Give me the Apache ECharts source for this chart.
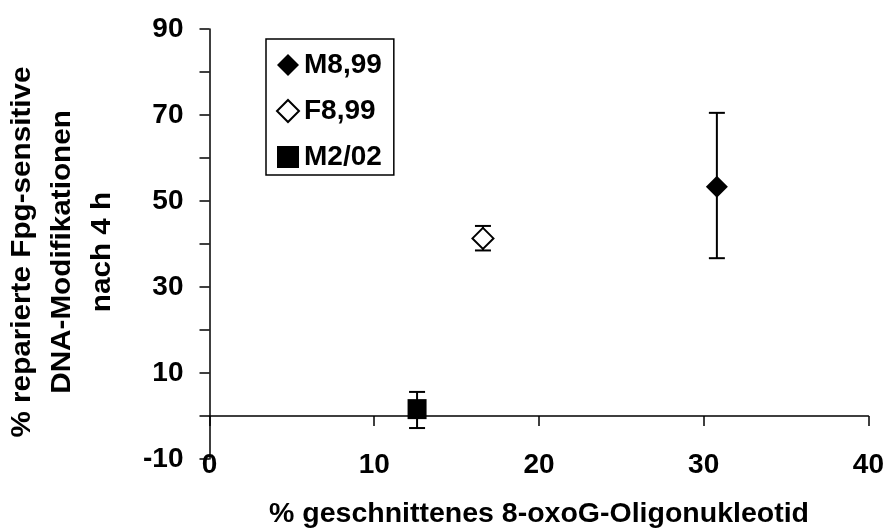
<!DOCTYPE html>
<html>
<head>
<meta charset="utf-8">
<script src="https://cdn.jsdelivr.net/npm/echarts@6/dist/echarts.min.js"></script>
<style>
html,body{margin:0;padding:0;background:#fff;}
#c{width:887px;height:529px;}
</style>
</head>
<body>
<div id="c"></div>
<script>
// ---- data ----
const seriesNames = ['M8,99', 'F8,99', 'M2/02'];
const xValues = [30.8, 16.6, 12.6];
const yValues = [53.3, 41.3, 1.6];
const errLow = [36.7, 38.5, -2.8];
const errHigh = [70.5, 44.2, 5.6];
const yTickLabels = [-10, 10, 30, 50, 70, 90];
const xTickLabels = [0, 10, 20, 30, 40];

const FONT = "'Liberation Sans', Arial, sans-serif";
const chart = echarts.init(document.getElementById('c'));

const markerDefs = [
  {symbol: 'diamond', size: 22, style: {color: '#000', borderColor: '#000', borderWidth: 0, opacity: 1}, icon: 'diamond'},
  {symbol: 'diamond', size: 21, style: {color: '#fff', borderColor: '#000', borderWidth: 2, opacity: 1}, icon: 'diamond'},
  {symbol: 'rect', size: [19, 20], style: {color: '#000', borderColor: '#000', borderWidth: 0, opacity: 1}, icon: 'rect'}
];

const series = [];
// error bars
series.push({
  type: 'custom',
  name: 'err',
  xAxisIndex: 0, yAxisIndex: 0,
  z: 1,
  silent: true,
  data: xValues.map((x, i) => [x, errLow[i], errHigh[i]]),
  renderItem: function (params, api) {
    const x = api.value(0);
    const lo = api.coord([x, api.value(1)]);
    const hi = api.coord([x, api.value(2)]);
    const hw = 8;
    const st = {stroke: '#000', lineWidth: 2};
    return {
      type: 'group',
      children: [
        {type: 'line', shape: {x1: lo[0], y1: lo[1], x2: hi[0], y2: hi[1]}, style: st},
        {type: 'line', shape: {x1: lo[0] - hw, y1: lo[1], x2: lo[0] + hw, y2: lo[1]}, style: st},
        {type: 'line', shape: {x1: hi[0] - hw, y1: hi[1], x2: hi[0] + hw, y2: hi[1]}, style: st}
      ]
    };
  }
});
seriesNames.forEach((n, i) => {
  series.push({
    type: 'scatter',
    name: n,
    xAxisIndex: 0, yAxisIndex: 0,
    z: 3,
    symbol: markerDefs[i].symbol,
    symbolSize: markerDefs[i].size,
    itemStyle: markerDefs[i].style,
    emphasis: {disabled: true},
    data: [[xValues[i], yValues[i]]]
  });
});

const option = {
  animation: false,
  backgroundColor: '#fff',
  grid: {left: 209.5, right: 18, top: 29, bottom: 70, containLabel: false},
  legend: {
    orient: 'vertical',
    left: 266, top: 39,
    padding: [12, 12, 4, 10],
    itemGap: 18,
    itemWidth: 22, itemHeight: 22,
    borderColor: '#000', borderWidth: 1.5,
    backgroundColor: '#fff',
    data: seriesNames.map((n, i) => ({name: n, icon: markerDefs[i].icon})),
    textStyle: {fontFamily: FONT, fontWeight: 'bold', fontSize: 28, color: '#000'}
  },
  xAxis: [
    {
      type: 'value', min: 0, max: 40, interval: 10, position: 'bottom',
      axisLine: {show: false, onZero: false},
      axisTick: {show: false},
      splitLine: {show: false},
      axisLabel: {
        margin: -8, color: '#000', fontFamily: FONT, fontWeight: 'bold', fontSize: 28,
        formatter: v => xTickLabels.indexOf(v) >= 0 ? String(v) : ''
      }
    },
    {
      type: 'value', min: 0, max: 40, interval: 10, position: 'bottom',
      axisLine: {show: true, onZero: true, lineStyle: {color: '#000', width: 1.5}},
      axisTick: {show: true, inside: false, length: 10, lineStyle: {color: '#000', width: 1.5}},
      splitLine: {show: false},
      axisLabel: {show: false}
    }
  ],
  yAxis: {
    type: 'value', min: -10, max: 90, interval: 10,
    axisLine: {show: true, onZero: false, lineStyle: {color: '#000', width: 1.5}},
    axisTick: {show: true, inside: false, length: 10, lineStyle: {color: '#000', width: 1.5}},
    splitLine: {show: false},
    axisLabel: {
      margin: 26, color: '#000', fontFamily: FONT, fontWeight: 'bold', fontSize: 28,
      formatter: v => yTickLabels.indexOf(v) >= 0 ? String(v) : ''
    }
  },
  graphic: [
    {
      type: 'text', x: 62, y: 252, rotation: Math.PI / 2, scaleX: 1.06,
      style: {
        text: '% reparierte Fpg-sensitive\nDNA-Modifikationen\nnach 4 h',
        font: 'bold 28px ' + FONT, fill: '#000',
        textAlign: 'center', textVerticalAlign: 'middle', lineHeight: 40
      }
    },
    {
      type: 'text', x: 539, y: 514,
      style: {
        text: '% geschnittenes 8-oxoG-Oligonukleotid',
        font: 'bold 28.5px ' + FONT, fill: '#000',
        textAlign: 'center', textVerticalAlign: 'middle'
      }
    }
  ],
  series: series
};
chart.setOption(option);
</script>
</body>
</html>
